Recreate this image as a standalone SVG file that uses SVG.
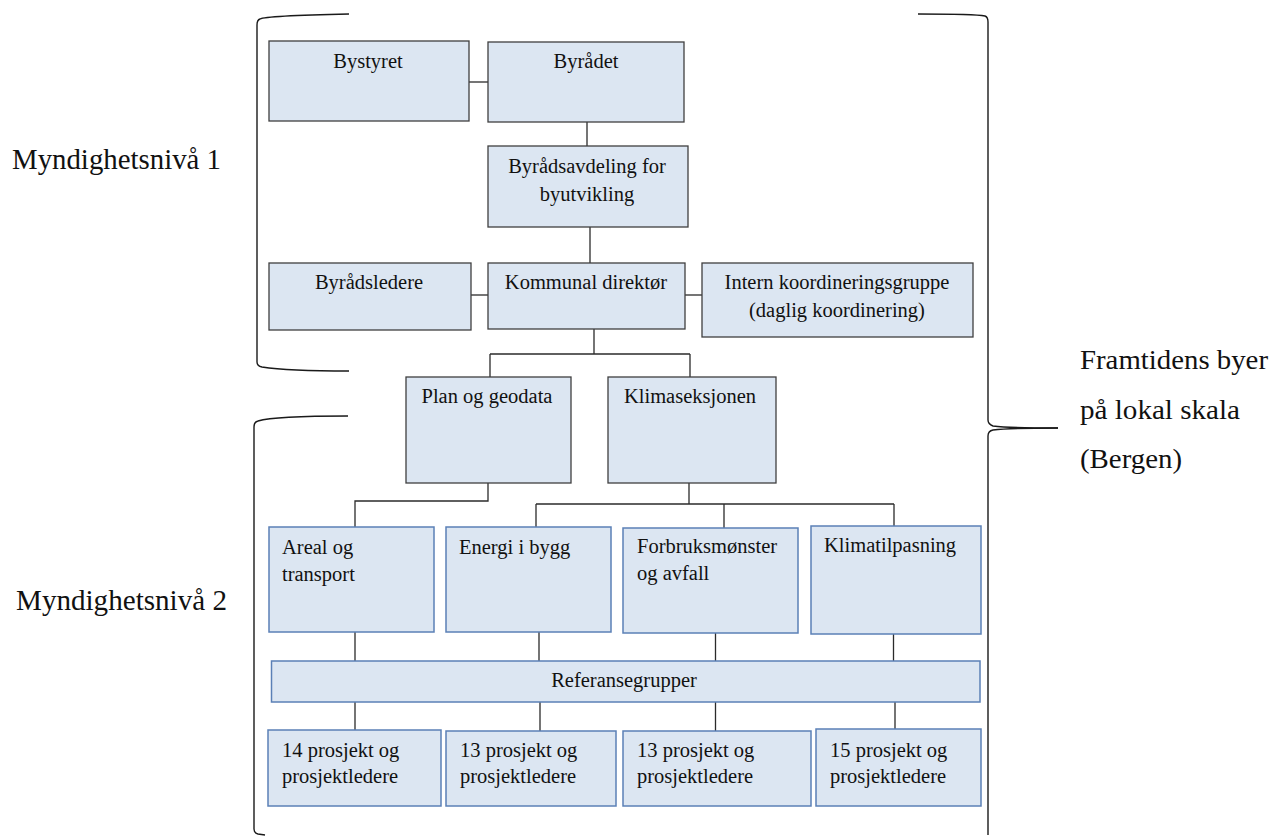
<svg xmlns="http://www.w3.org/2000/svg" width="1274" height="837" viewBox="0 0 1274 837">
<style>
.bg{fill:#ffffff}
.b1{fill:#dce6f2;stroke:#3f3f3f;stroke-width:1.3}
.b2{fill:#dce6f2;stroke:#5b80b6;stroke-width:1.5}
text{font-family:'Liberation Serif','Times New Roman',Tinos,'DejaVu Serif',serif;fill:#111}
.t{font-size:20.5px}
.c{text-anchor:middle}
.lbl{font-size:28px}
.lbl2{font-size:30px}
.ln{fill:none;stroke:#2b2b2b;stroke-width:1.3}
.br{fill:none;stroke:#1a1a1a;stroke-width:1.4}
</style>
<rect class="bg" x="0" y="0" width="1274" height="837"/>
<g id="connectors">
<path class="ln" d="M469 82H488"/>
<path class="ln" d="M587 122V146"/>
<path class="ln" d="M590 227V263"/>
<path class="ln" d="M471 295H488"/>
<path class="ln" d="M685 295H702"/>
<path class="ln" d="M594 329V354M490 354H690M490 354V377M690 354V377"/>
<path class="ln" d="M488 483V501H355V527"/>
<path class="ln" d="M689 483V504M536 504H894M536 504V527M724 504V528M894 504V526"/>
<path class="ln" d="M355 632V661M539 632V661M715.5 633V661M893.5 634V661"/>
<path class="ln" d="M355 702V730M540 702V731M715.5 702V731M895 702V729"/>
</g>
<g id="brackets">
<path class="br" d="M349 14C300 15 265 16 260 19Q257 20 257 25V362Q257 366 262 367C275 369 300 371 349 371"/>
<path class="br" d="M348 416C300 416 268 418 258 421Q254 422 254 427V829Q254 833 258 834L265 835"/>
<path class="br" d="M918 14C960 14 980 15 985 16Q988 17 988 22V420Q988 424 993 426C1010 428 1030 428 1058 428"/>
<path class="br" d="M1058 428C1030 428 1010 428 993 430Q988 431 988 436V835"/>
</g>
<g id="n-bystyret"><rect class="b1" x="269" y="41" width="200" height="80"/><text class="t c" x="368" y="68">Bystyret</text></g>
<g id="n-byradet"><rect class="b1" x="488" y="42" width="196" height="80"/><text class="t c" x="586" y="68">Byrådet</text></g>
<g id="n-byradsavdeling"><rect class="b1" x="488" y="146" width="200" height="81"/><text class="t c" x="587" y="173">Byrådsavdeling for</text><text class="t c" x="587" y="201">byutvikling</text></g>
<g id="n-byradsledere"><rect class="b1" x="269" y="263" width="202" height="67"/><text class="t c" x="369" y="289">Byrådsledere</text></g>
<g id="n-kommunal"><rect class="b1" x="488" y="263" width="197" height="66"/><text class="t c" x="586" y="289">Kommunal direktør</text></g>
<g id="n-intern"><rect class="b1" x="702" y="263" width="271" height="74"/><text class="t c" x="837" y="289">Intern koordineringsgruppe</text><text class="t c" x="837" y="317">(daglig koordinering)</text></g>
<g id="n-plan"><rect class="b1" x="406" y="377" width="165" height="106"/><text class="t c" x="487" y="403">Plan og geodata</text></g>
<g id="n-klima"><rect class="b1" x="608" y="377" width="168" height="106"/><text class="t c" x="690" y="403">Klimaseksjonen</text></g>
<g id="n-areal"><rect class="b2" x="269" y="527" width="165" height="105"/><text class="t" x="282" y="554">Areal og</text><text class="t" x="282" y="581">transport</text></g>
<g id="n-energi"><rect class="b2" x="446" y="527" width="165" height="105"/><text class="t" x="459" y="554">Energi i bygg</text></g>
<g id="n-forbruk"><rect class="b2" x="623" y="528" width="175" height="105"/><text class="t" x="637" y="553">Forbruksmønster</text><text class="t" x="637" y="580">og avfall</text></g>
<g id="n-klimatilpasning"><rect class="b2" x="811" y="526" width="170" height="108"/><text class="t" x="824" y="552">Klimatilpasning</text></g>
<g id="n-referanse"><rect class="b2" x="271.5" y="661" width="708.5" height="41"/><text class="t c" x="624" y="687">Referansegrupper</text></g>
<g id="n-p14"><rect class="b2" x="268" y="730" width="173" height="76"/><text class="t" x="282" y="757">14 prosjekt og</text><text class="t" x="282" y="783">prosjektledere</text></g>
<g id="n-p13a"><rect class="b2" x="446" y="731" width="170" height="75"/><text class="t" x="460" y="757">13 prosjekt og</text><text class="t" x="460" y="783">prosjektledere</text></g>
<g id="n-p13b"><rect class="b2" x="623" y="731" width="188" height="75"/><text class="t" x="637" y="757">13 prosjekt og</text><text class="t" x="637" y="783">prosjektledere</text></g>
<g id="n-p15"><rect class="b2" x="816" y="729" width="165" height="77"/><text class="t" x="830" y="757">15 prosjekt og</text><text class="t" x="830" y="783">prosjektledere</text></g>
<g id="labels">
<text class="lbl2" x="12" y="169" textLength="209" lengthAdjust="spacingAndGlyphs">Myndighetsnivå 1</text>
<text class="lbl2" x="16" y="610" textLength="211" lengthAdjust="spacingAndGlyphs">Myndighetsnivå 2</text>
<text class="lbl" x="1080" y="369" textLength="188" lengthAdjust="spacingAndGlyphs">Framtidens byer</text>
<text class="lbl" x="1080" y="419" textLength="160" lengthAdjust="spacingAndGlyphs">på lokal skala</text>
<text class="lbl" x="1080" y="468" textLength="102" lengthAdjust="spacingAndGlyphs">(Bergen)</text>
</g>
</svg>
